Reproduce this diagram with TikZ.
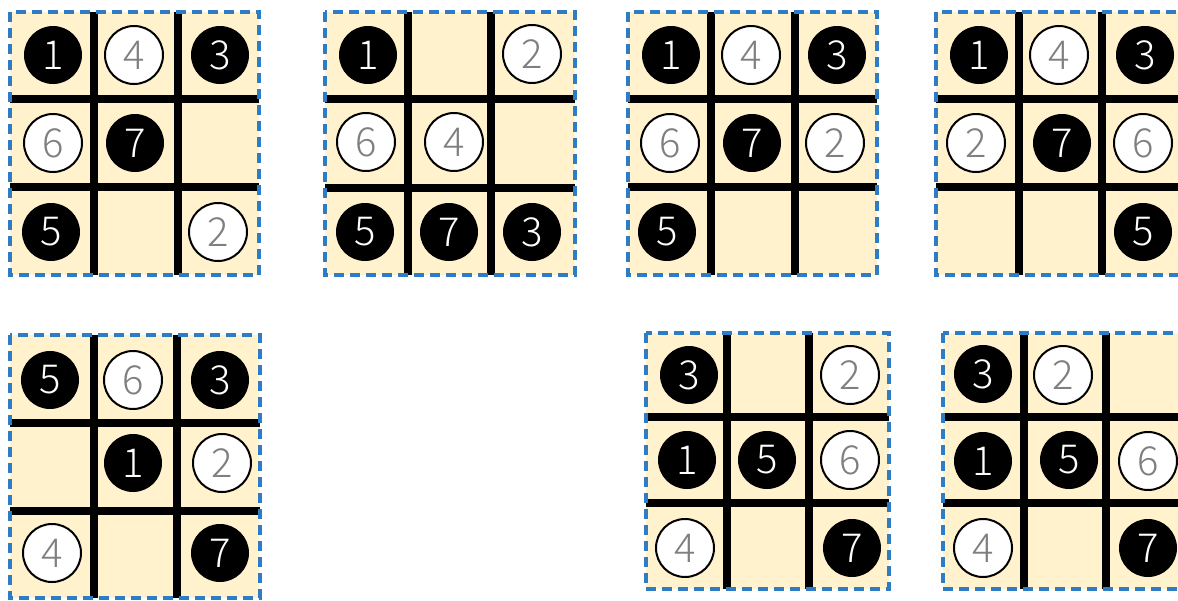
\documentclass[tikz,border=0pt]{standalone}
\usepackage{fontspec}
\newfontfamily\digitfont{Noto Sans CJK SC}[UprightFont=* Light]
\definecolor{cellfill}{HTML}{FFF2CC}
\definecolor{framecol}{HTML}{2E7DC4}
\definecolor{graytext}{HTML}{7F7F7F}
\tikzset{
  gridline/.style={line width=8pt, black},
  frameline/.style={draw=framecol, line width=3.5pt, dash pattern=on 10pt off 6pt},
  stone/.style={circle, minimum size=58pt, inner sep=0pt, font=\digitfont\fontsize{40}{40}\selectfont},
  bstone/.style={stone, fill=black, text=white},
  wstone/.style={stone, fill=white, draw=black, line width=2pt, text=graytext},
}
% #1,#2 = top-left; #3,#4 = bottom-right; #5,#6 = vertical lines x; #7,#8 = horizontal lines y
\newcommand\tttboard[8]{%
  \fill[cellfill] (#1,#2) rectangle (#3,#4);
  \draw[gridline] (#5,#2) -- (#5,#4);
  \draw[gridline] (#6,#2) -- (#6,#4);
  \draw[gridline] (#1,#7) -- (#3,#7);
  \draw[gridline] (#1,#8) -- (#3,#8);
  \draw[frameline] (#1,#2) rectangle (#3,#4);
}
\begin{document}
\begin{tikzpicture}[x=1pt,y=-1pt]
\useasboundingbox (0,0) rectangle (1178,600);
\clip (0,0) rectangle (1178,600);
% Board 1
\tttboard{10}{12}{259}{275}{94}{178}{99}{187}
\node[bstone] (a1) at (53,55) {1};
\node[wstone] (a4) at (134,55) {4};
\node[bstone] (a3) at (220,55) {3};
\node[wstone] (a6) at (53,143) {6};
\node[bstone] (a7) at (135,143) {7};
\node[bstone] (a5) at (51,232) {5};
\node[wstone] (a2) at (218,232) {2};
% Board 2
\tttboard{325}{12}{575}{275}{408}{491}{99}{188}
\node[bstone] (b1) at (368,55) {1};
\node[wstone] (b2) at (532,54) {2};
\node[wstone] (b6) at (366,142) {6};
\node[wstone] (b4) at (454,142) {4};
\node[bstone] (b5) at (365,232) {5};
\node[bstone] (b7) at (449,232) {7};
\node[bstone] (b3) at (532,232) {3};
% Board 3
\tttboard{628}{12}{877}{275}{711}{795}{99}{187}
\node[bstone] (c1) at (671,55) {1};
\node[wstone] (c4) at (751,55) {4};
\node[bstone] (c3) at (837,55) {3};
\node[wstone] (c6) at (670,143) {6};
\node[bstone] (c7) at (752,143) {7};
\node[wstone] (c2) at (835,143) {2};
\node[bstone] (c5) at (667,232) {5};
% Board 4
\tttboard{936}{12}{1185}{275}{1019}{1102}{99}{187}
\node[bstone] (d1) at (979,55) {1};
\node[wstone] (d4) at (1059,55) {4};
\node[bstone] (d3) at (1145,55) {3};
\node[wstone] (d2) at (976,143) {2};
\node[bstone] (d7) at (1062,143) {7};
\node[wstone] (d6) at (1143,143) {6};
\node[bstone] (d5) at (1143,232) {5};
% Board 5
\tttboard{10}{335}{260}{598}{94}{177}{423}{511}
\node[bstone] (e5) at (50,380) {5};
\node[wstone] (e6) at (133,380) {6};
\node[bstone] (e3) at (220,380) {3};
\node[bstone] (e1) at (133,463) {1};
\node[wstone] (e2) at (222,463) {2};
\node[wstone] (e4) at (52,553) {4};
\node[bstone] (e7) at (220,553) {7};
% Board 6
\tttboard{646}{333}{889}{589}{727}{809}{417}{503}
\node[bstone] (f3) at (689,375) {3};
\node[wstone] (f2) at (850,375) {2};
\node[bstone] (f1) at (687,460) {1};
\node[bstone] (f5) at (767,460) {5};
\node[wstone] (f6) at (850,460) {6};
\node[wstone] (f4) at (685,548) {4};
\node[bstone] (f7) at (852,548) {7};
% Board 7
\tttboard{943}{333}{1186}{589}{1024}{1106}{417}{503}
\node[bstone] (g3) at (983,374) {3};
\node[wstone] (g2) at (1063,375) {2};
\node[bstone] (g1) at (983,461) {1};
\node[bstone] (g5) at (1069,460) {5};
\node[wstone] (g6) at (1148,461) {6};
\node[wstone] (g4) at (983,548) {4};
\node[bstone] (g7) at (1148,548) {7};
\end{tikzpicture}
\end{document}
